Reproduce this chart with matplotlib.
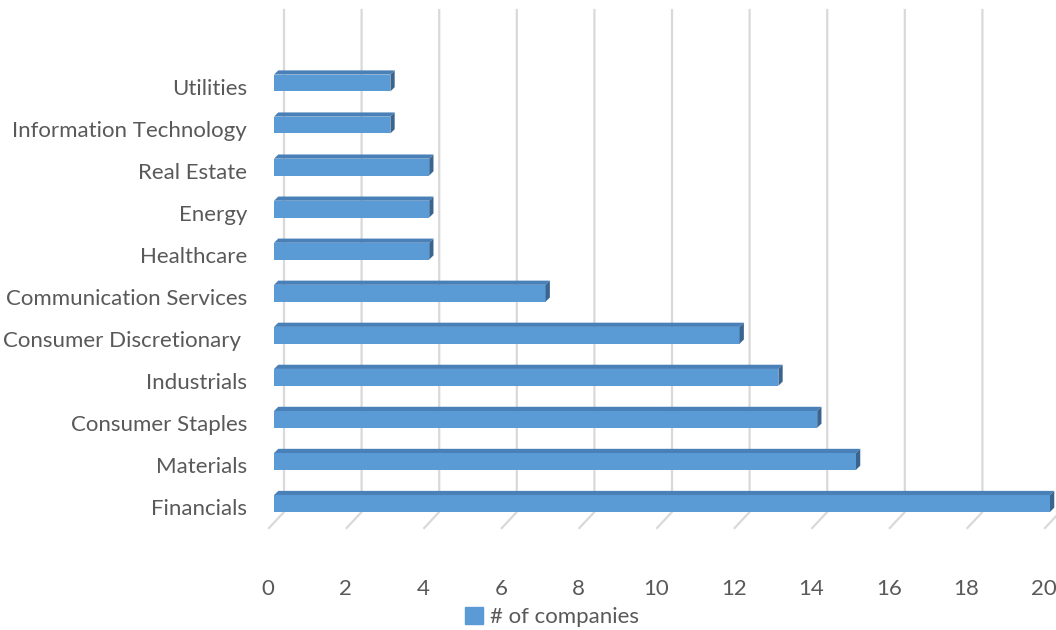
import matplotlib
matplotlib.use("Agg")
import matplotlib.pyplot as plt
from matplotlib.patches import Polygon, Rectangle
from matplotlib.transforms import ScaledTranslation

plt.rcParams['font.family'] = ['Lato', 'DejaVu Sans']

sectors = ['Financials', 'Materials', 'Consumer Staples', 'Industrials',
           'Consumer Discretionary ', 'Communication Services', 'Healthcare',
           'Energy', 'Real Estate', 'Information Technology', 'Utilities']
companies = [20, 15, 14, 13, 12, 7, 4, 4, 4, 3, 3]
xticks = list(range(0, 22, 2))

front = '#5B9BD5'
top = '#4A80B8'
side = '#3A6591'
grid = '#D9D9D9'
text_color = '#595959'

fig = plt.figure(figsize=(10.56, 6.30), dpi=100)
ax = fig.add_axes([274 / 1056, 93 / 630, 776 / 1056, 527 / 630])
ax.set_xlim(0, 20)
ax.set_ylim(-0.797, 11.736)

# back wall gridlines with a slanted foot on the floor
back_dx, foot_dx = 0.258, -0.129
wall_y, foot_y = -0.202, -0.583
for v in xticks:
    ax.plot([v + back_dx, v + back_dx, v + foot_dx],
            [11.736, wall_y, foot_y],
            color=grid, lw=1.6, clip_on=False, zorder=1)

# pseudo-3D bars: front face, top face and right side face
h = 0.4
dx, dy = 0.11, 0.1
ys = list(range(len(companies)))
ax.barh(ys, companies, height=h, color=front, zorder=3)
for y, v in zip(ys, companies):
    y0, y1 = y - h / 2, y + h / 2
    ax.add_patch(Polygon([(0, y1), (v, y1), (v + dx, y1 + dy), (dx, y1 + dy)],
                         closed=True, color=top, lw=0, zorder=3, clip_on=False))
    ax.add_patch(Polygon([(v, y0), (v, y1), (v + dx, y1 + dy), (v + dx, y0 + dy)],
                         closed=True, color=side, lw=0, zorder=3, clip_on=False))

for s in ax.spines.values():
    s.set_visible(False)
ax.tick_params(length=0, colors=text_color, labelsize=16)
ax.set_yticks(ys)
ax.set_yticklabels(sectors)
ax.tick_params(axis='y', pad=19.5)
ax.set_xticks(xticks)
ax.set_xticklabels([str(t) for t in xticks])
ax.tick_params(axis='x', pad=30)

# nudge labels: x labels a bit left, category labels a bit down
xshift = ScaledTranslation(-6 / 100, 0, fig.dpi_scale_trans)
for lab in ax.get_xticklabels():
    lab.set_transform(lab.get_transform() + xshift)
yshift = ScaledTranslation(0, -4 / 100, fig.dpi_scale_trans)
for lab in ax.get_yticklabels():
    lab.set_transform(lab.get_transform() + yshift)

handle = Rectangle((0, 0), 1, 1, color=front)
fig.legend([handle], ['# of companies'], loc='center', bbox_to_anchor=(552 / 1056, 1 - 617 / 630),
           frameon=False, fontsize=16, labelcolor=text_color, handlelength=0.8,
           handleheight=0.8, handletextpad=0.3)

fig.savefig('out.png', dpi=100)
